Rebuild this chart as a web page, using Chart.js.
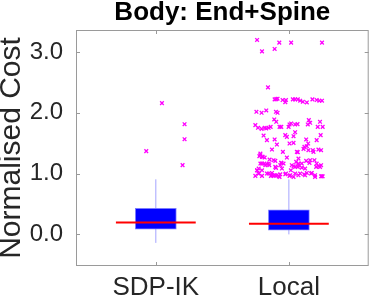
<!DOCTYPE html>
<html>
<head>
<meta charset="utf-8">
<script src="https://cdn.jsdelivr.net/npm/chart.js@4.4.0/dist/chart.umd.min.js"></script>
<style>
  html, body { margin: 0; padding: 0; background: #fff; }
  #wrap { width: 374px; height: 299px; }
</style>
</head>
<body>
<div id="wrap"><canvas id="c"></canvas></div>
<script>
// box stats per category
const categories = ['SDP-IK', 'Local'];
const whiskerLo = [-0.14, 0.0];
const q1 = [0.085, 0.07];
const medians = [0.195, 0.175];
const q3 = [0.43, 0.405];
const whiskerHi = [0.905, 0.905];
const yTicks = [0, 1, 2, 3];

// outliers: jitter around category position + value
const sdpOutDx = [0.046, 0.216, 0.216, -0.072, 0.201];
const sdpOutY  = [2.157, 1.811, 1.565, 1.368, 1.138];

const localOutDx = [
  -0.239, -0.072, 0.017, 0.249, -0.202, -0.107, -0.157,
  -0.095, -0.107, -0.085, -0.047, -0.022, -0.027, 0.030, 0.047, 0.067, 0.085, 0.105, 0.135, 0.177, 0.209, 0.229, 0.249,
  -0.244, -0.205, -0.170, -0.097, -0.085,
  -0.110, -0.095, 0.017, 0.047, 0.065, 0.150, 0.160, 0.234, 0.142,
  -0.252, -0.232, -0.205, -0.182, -0.170, -0.152, -0.137, -0.070, -0.057, -0.002, 0.005, 0.217, 0.254,
  -0.190, -0.027, -0.015, 0.047, 0.035, 0.239,
  -0.165, -0.107, -0.090, 0.005, 0.035, 0.130, 0.209, 0.145, 0.135, 0.110, 0.147, 0.222, 0.242,
  -0.127, -0.045, 0.067, 0.180, 0.117,
  -0.214, -0.222, -0.202, -0.015, -0.102, -0.145,
  -0.214, -0.185, -0.165, -0.147, -0.057, -0.065, 0.055, 0.072, 0.130, 0.155, 0.192, 0.242, 0.222, 0.205,
  -0.227, -0.239, -0.202, -0.097, -0.052, 0.035, 0.067, 0.097, 0.015,
  -0.252, -0.227, -0.202, -0.152, -0.135, -0.115, -0.090, -0.065, -0.022, 0.005, 0.035, 0.072, 0.115, 0.135, 0.167, 0.197, 0.242, 0.254, -0.127, -0.070,
  -0.215, -0.197, -0.182, -0.115, -0.057, -0.040, 0.060, 0.072, 0.160, 0.185, 0.209,
  -0.202, -0.177, -0.152, -0.102, 0.022, 0.047, 0.072, 0.097, 0.122, 0.234,
  -0.239, -0.227, -0.165, -0.127, -0.102, -0.077, -0.027, 0.010, 0.047, 0.085, 0.122, 0.172, 0.197, 0.247
];
const localOutY = [
  3.196, 3.152, 3.152, 3.152, 3.009, 3.048, 2.416,
  2.224, 2.219, 2.230, 2.208, 2.208, 2.175, 2.219, 2.219, 2.219, 2.197, 2.180, 2.169, 2.219, 2.208, 2.197, 2.197,
  2.015, 1.999, 2.037, 2.015, 1.999,
  1.889, 1.851, 1.823, 1.807, 1.812, 1.878, 1.834, 1.851, 1.807,
  1.796, 1.752, 1.735, 1.752, 1.741, 1.752, 1.768, 1.768, 1.768, 1.768, 1.807, 1.768, 1.768,
  1.625, 1.631, 1.603, 1.680, 1.614, 1.631,
  1.549, 1.560, 1.477, 1.494, 1.505, 1.560, 1.549, 1.494, 1.450, 1.406, 1.384, 1.395, 1.384,
  1.395, 1.356, 1.351, 1.384, 1.439,
  1.329, 1.285, 1.274, 1.263, 1.208, 1.230,
  1.164, 1.164, 1.153, 1.137, 1.175, 1.137, 1.192, 1.164, 1.208, 1.175, 1.219, 1.137, 1.120, 1.109,
  1.082, 1.054, 1.054, 1.093, 1.082, 1.120, 1.109, 1.098, 1.054,
  0.961, 1.000, 0.961, 1.000, 0.961, 0.961, 0.972, 0.988, 1.000, 0.961, 0.944, 0.972, 0.988, 1.010, 1.000, 0.944, 0.955, 0.955, 1.010, 0.944,
  1.301, 1.274, 1.263, 1.219, 1.175, 1.164, 1.356, 1.247, 1.219, 1.356, 1.164,
  1.164, 1.137, 1.164, 1.109, 1.137, 1.109, 1.137, 1.164, 1.082, 1.109,
  1.054, 1.000, 1.000, 0.972, 0.972, 0.955, 0.988, 0.972, 1.000, 1.000, 0.972, 1.010, 0.972, 0.955
];

const FONT = "'Liberation Sans', Arial, sans-serif";
const axisGrey = '#9a9a9a';
const textGrey = '#262626';
const medianHalf = 0.3;

// build datasets from the arrays
const boxData = categories.map((_, i) => ({ x: i + 1, y: [q1[i], q3[i]] }));
const whiskerData = [];
const medianData = [];
categories.forEach((_, i) => {
  whiskerData.push({ x: i + 1, y: whiskerLo[i] }, { x: i + 1, y: whiskerHi[i] }, { x: i + 1, y: null });
  medianData.push({ x: i + 1 - medianHalf, y: medians[i] }, { x: i + 1 + medianHalf, y: medians[i] }, { x: i + 1, y: null });
});
const outData = sdpOutDx.map((d, k) => ({ x: 1 + d, y: sdpOutY[k] }))
  .concat(localOutDx.map((d, k) => ({ x: 2 + d, y: localOutY[k] })));

// matlab style frame with inward ticks
const frameTicks = {
  id: 'frameTicks',
  afterDatasetsDraw(chart) {
    const { ctx, chartArea: a, scales } = chart;
    const len = 4;
    ctx.save();
    ctx.strokeStyle = axisGrey;
    ctx.lineWidth = 1;
    ctx.strokeRect(a.left + 0.5, a.top + 0.5, a.right - a.left - 1, a.bottom - a.top - 1);
    ctx.beginPath();
    yTicks.forEach(v => {
      const y = Math.round(scales.y.getPixelForValue(v)) + 0.5;
      ctx.moveTo(a.left, y); ctx.lineTo(a.left + len, y);
      ctx.moveTo(a.right, y); ctx.lineTo(a.right - len, y);
    });
    categories.forEach((_, i) => {
      const x = Math.round(scales.x.getPixelForValue(i + 1)) + 0.5;
      ctx.moveTo(x, a.top); ctx.lineTo(x, a.top + len);
      ctx.moveTo(x, a.bottom); ctx.lineTo(x, a.bottom - len);
    });
    ctx.stroke();
    ctx.restore();
  }
};

new Chart(document.getElementById('c'), {
  type: 'bar',
  data: {
    datasets: [
      { type: 'line', data: outData, order: 0, showLine: false, xAxisID: 'x',
        pointStyle: 'crossRot', pointRadius: 2.6, pointBorderWidth: 1.3,
        pointBorderColor: '#ff00ff', pointBackgroundColor: '#ff00ff' },
      { type: 'line', data: medianData, order: 1, borderColor: '#ff0000', borderWidth: 2, xAxisID: 'x',
        pointRadius: 0, spanGaps: false },
      { type: 'bar', data: boxData, order: 2, backgroundColor: '#0000ff', xAxisID: 'x',
        borderColor: 'rgba(110,110,255,0.9)', borderWidth: 1, borderSkipped: false, barThickness: 41 },
      { type: 'line', data: whiskerData, order: 3, borderColor: '#a4a4ff', borderWidth: 1, xAxisID: 'x',
        pointRadius: 0, spanGaps: false }
    ]
  },
  options: {
    responsive: true,
    maintainAspectRatio: false,
    animation: false,
    events: [],
    layout: { padding: { left: 0, right: 1, top: 0, bottom: 0 } },
    plugins: { legend: { display: false }, tooltip: { enabled: false } },
    scales: {
      x: {
        type: 'linear', position: 'bottom', min: 0.4, max: 2.6, offset: false,
        grid: { display: false, drawTicks: false, offset: false }, border: { display: false },
        afterBuildTicks: s => { s.ticks = categories.map((_, i) => ({ value: i + 1 })); },
        afterFit: s => { s.height = 33; },
        ticks: {
          autoSkip: false, maxRotation: 0, padding: 6, color: textGrey,
          font: { family: FONT, size: 26 },
          callback: v => categories[v - 1]
        }
      },
      xTop: {
        type: 'linear', position: 'top', min: 0.4, max: 2.6, offset: false,
        grid: { display: false, drawTicks: false, offset: false }, border: { display: false },
        ticks: { display: false },
        afterFit: s => { s.height = 30; },
        title: {
          display: true, text: 'Body: End+Spine', color: '#000',
          padding: { top: 0, bottom: 0 },
          font: { family: FONT, size: 26, weight: 'bold', lineHeight: 0.96 }
        }
      },
      y: {
        min: -0.52, max: 3.36,
        grid: { display: false, drawTicks: false }, border: { display: false },
        afterBuildTicks: s => { s.ticks = yTicks.map(v => ({ value: v })); },
        afterFit: s => { s.width = 76; },
        ticks: {
          padding: 13, color: textGrey,
          font: { family: FONT, size: 24 },
          callback: v => v.toFixed(1)
        },
        title: {
          display: true, text: 'Normalised Cost', color: textGrey,
          padding: 0,
          font: { family: FONT, size: 30, lineHeight: 0.77 }
        }
      }
    }
  },
  plugins: [frameTicks]
});
</script>
</body>
</html>
